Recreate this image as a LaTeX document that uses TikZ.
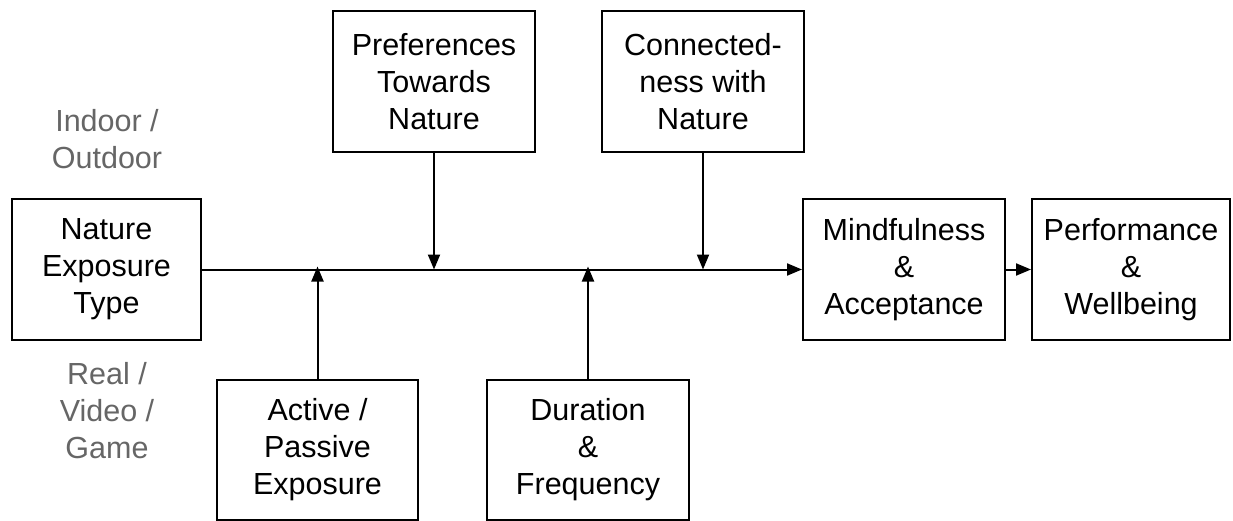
\documentclass[tikz,border=0pt]{standalone}
\usepackage{fontspec}
\setmainfont{Liberation Sans}
\usetikzlibrary{arrows.meta}
\begin{document}
\begin{tikzpicture}[x=1pt,y=-1pt,
  box/.style={draw,line width=2pt,align=center,inner sep=0pt,
    font=\fontsize{30.5}{37}\selectfont,text=black},
  side/.style={align=center,font=\fontsize{30.5}{37}\selectfont,text=black!60},
  conn/.style={line width=2pt,-{Triangle[length=15pt,width=12pt]}}]
\useasboundingbox (0,0) rectangle (1233,521);
\node[box,minimum width=189pt,minimum height=141pt] (nat) at (106.5,269.5) {Nature\\Exposure\\Type};
\node[box,minimum width=202pt,minimum height=141pt] (pref) at (434,81.5) {Preferences\\Towards\\Nature};
\node[box,minimum width=202pt,minimum height=141pt] (con) at (703,81.5) {Connected-\\ness with\\Nature};
\node[box,minimum width=202pt,minimum height=141pt] (mind) at (904,269.5) {Mindfulness\\\&\\Acceptance};
\node[box,minimum width=198pt,minimum height=141pt] (perf) at (1131,269.5) {Performance\\\&\\Wellbeing};
\node[box,minimum width=201pt,minimum height=140pt] (act) at (317.5,450) {Active /\\Passive\\Exposure};
\node[box,minimum width=202pt,minimum height=140pt] (dur) at (588,450) {Duration\\\&\\Frequency};
\node[side] (io) at (107,139) {Indoor /\\Outdoor};
\node[side] (rvg) at (107,411) {Real /\\Video /\\Game};
\draw[conn] (nat.east) -- (nat.east -| mind.west);
\draw[conn] (mind.east |- nat.east) -- (perf.west |- nat.east);
\draw[conn] (pref.south) -- (pref.south |- nat.east);
\draw[conn] (con.south) -- (con.south |- nat.east);
\coordinate (la) at ([yshift=3pt]act.north |- nat.east);
\coordinate (ld) at ([yshift=3pt]dur.north |- nat.east);
\draw[conn] (act.north) -- (la);
\draw[conn] (dur.north) -- (ld);
\end{tikzpicture}
\end{document}
